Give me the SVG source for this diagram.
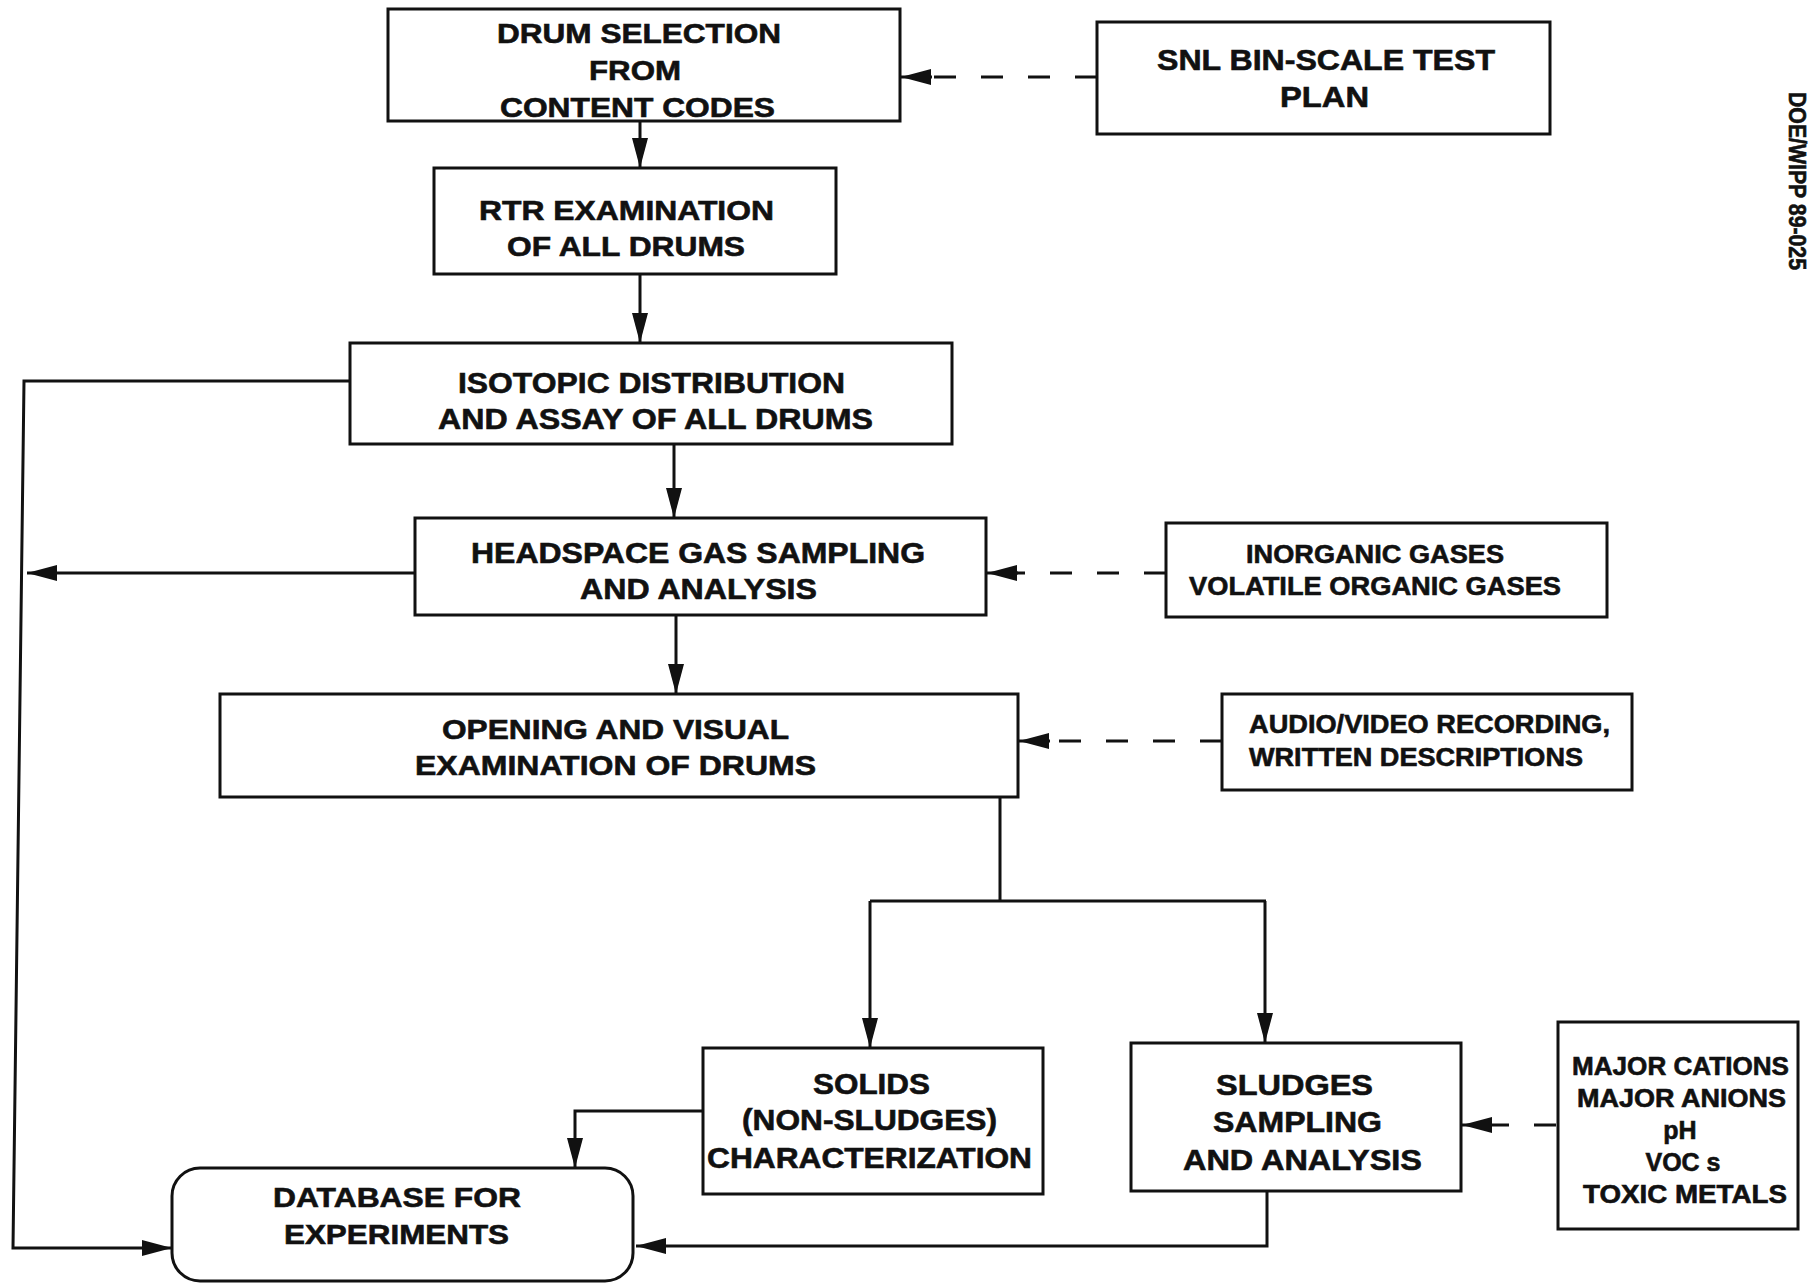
<svg xmlns="http://www.w3.org/2000/svg" width="1811" height="1287" viewBox="0 0 1811 1287">
<style>
.box{fill:#fff;stroke:#111;stroke-width:3}
.t{font-family:"Liberation Sans",Arial,Helvetica,sans-serif;font-weight:bold;fill:#111;stroke:#111;stroke-width:0.6}
.s23{font-size:23px}.s25{font-size:25px}.s26{font-size:26px}.s27{font-size:27px}.s28{font-size:28px}.s29{font-size:29px}
.ln{fill:none;stroke:#111;stroke-width:3;stroke-linejoin:miter}
.dash{fill:none;stroke:#111;stroke-width:3;stroke-dasharray:22 25}
</style>
<defs>
<marker id="ah" markerUnits="userSpaceOnUse" viewBox="0 0 30 16" refX="30" refY="8" markerWidth="30" markerHeight="16" orient="auto">
<path d="M0,0 L30,8 L0,16 z" fill="#111"/>
</marker>
</defs>
<rect width="1811" height="1287" fill="#fff"/>

<g id="connectors">
<line class="ln" x1="640" y1="121" x2="640" y2="168" marker-end="url(#ah)"/>
<line class="ln" x1="640" y1="274" x2="640" y2="343" marker-end="url(#ah)"/>
<line class="ln" x1="674" y1="444" x2="674" y2="518" marker-end="url(#ah)"/>
<line class="ln" x1="676" y1="615" x2="676" y2="694" marker-end="url(#ah)"/>
<path class="ln" d="M350,381 L24,381 L13,1248 L172,1248" marker-end="url(#ah)"/>
<line class="ln" x1="415" y1="573" x2="27" y2="573" marker-end="url(#ah)"/>
<path class="ln" d="M1000,797 L1000,901 M870,901 L1266,901"/>
<line class="ln" x1="870" y1="901" x2="870" y2="1048" marker-end="url(#ah)"/>
<line class="ln" x1="1265" y1="901" x2="1265" y2="1043" marker-end="url(#ah)"/>
<path class="ln" d="M703,1111 L575,1111 L575,1168" marker-end="url(#ah)"/>
<path class="ln" d="M1267,1191 L1267,1246 L636,1246" marker-end="url(#ah)"/>
<line class="dash" x1="1097" y1="77" x2="930" y2="77"/>
<line class="ln" x1="932" y1="77" x2="901" y2="77" marker-end="url(#ah)"/>
<line class="dash" x1="1166" y1="573" x2="1015" y2="573"/>
<line class="ln" x1="1018" y1="573" x2="987" y2="573" marker-end="url(#ah)"/>
<line class="dash" x1="1222" y1="741" x2="1048" y2="741"/>
<line class="ln" x1="1050" y1="741" x2="1019" y2="741" marker-end="url(#ah)"/>
<line class="dash" x1="1556" y1="1125" x2="1490" y2="1125"/>
<line class="ln" x1="1492" y1="1125" x2="1462" y2="1125" marker-end="url(#ah)"/>
</g>

<g id="drum-selection">
<rect class="box" x="388" y="9" width="512" height="112"/>
<text class="t s27" x="497" y="43" textLength="284" lengthAdjust="spacingAndGlyphs">DRUM SELECTION</text>
<text class="t s27" x="589" y="80" textLength="92" lengthAdjust="spacingAndGlyphs">FROM</text>
<text class="t s27" x="500" y="117" textLength="275" lengthAdjust="spacingAndGlyphs">CONTENT CODES</text>
</g>

<g id="snl-plan">
<rect class="box" x="1097" y="22" width="453" height="112"/>
<text class="t s29" x="1157" y="70" textLength="338" lengthAdjust="spacingAndGlyphs">SNL BIN-SCALE TEST</text>
<text class="t s29" x="1280" y="107" textLength="89" lengthAdjust="spacingAndGlyphs">PLAN</text>
</g>

<g id="rtr-examination">
<rect class="box" x="434" y="168" width="402" height="106"/>
<text class="t s28" x="479" y="220" textLength="295" lengthAdjust="spacingAndGlyphs">RTR EXAMINATION</text>
<text class="t s28" x="507" y="256" textLength="238" lengthAdjust="spacingAndGlyphs">OF ALL DRUMS</text>
</g>

<g id="isotopic">
<rect class="box" x="350" y="343" width="602" height="101"/>
<text class="t s29" x="458" y="393" textLength="387" lengthAdjust="spacingAndGlyphs">ISOTOPIC DISTRIBUTION</text>
<text class="t s29" x="438" y="429" textLength="435" lengthAdjust="spacingAndGlyphs">AND ASSAY OF ALL DRUMS</text>
</g>

<g id="headspace">
<rect class="box" x="415" y="518" width="571" height="97"/>
<text class="t s29" x="471" y="563" textLength="454" lengthAdjust="spacingAndGlyphs">HEADSPACE GAS SAMPLING</text>
<text class="t s29" x="580" y="599" textLength="237" lengthAdjust="spacingAndGlyphs">AND ANALYSIS</text>
</g>

<g id="gases">
<rect class="box" x="1166" y="523" width="441" height="94"/>
<text class="t s26" x="1246" y="563" textLength="258" lengthAdjust="spacingAndGlyphs">INORGANIC GASES</text>
<text class="t s26" x="1189" y="595" textLength="372" lengthAdjust="spacingAndGlyphs">VOLATILE ORGANIC GASES</text>
</g>

<g id="opening">
<rect class="box" x="220" y="694" width="798" height="103"/>
<text class="t s28" x="442" y="739" textLength="347" lengthAdjust="spacingAndGlyphs">OPENING AND VISUAL</text>
<text class="t s28" x="415" y="775" textLength="401" lengthAdjust="spacingAndGlyphs">EXAMINATION OF DRUMS</text>
</g>

<g id="recording">
<rect class="box" x="1222" y="694" width="410" height="96"/>
<text class="t s26" x="1249" y="733" textLength="361" lengthAdjust="spacingAndGlyphs">AUDIO/VIDEO RECORDING,</text>
<text class="t s26" x="1249" y="766" textLength="334" lengthAdjust="spacingAndGlyphs">WRITTEN DESCRIPTIONS</text>
</g>

<g id="solids">
<rect class="box" x="703" y="1048" width="340" height="146"/>
<text class="t s29" x="813" y="1094" textLength="117" lengthAdjust="spacingAndGlyphs">SOLIDS</text>
<text class="t s29" x="742" y="1130" textLength="255" lengthAdjust="spacingAndGlyphs">(NON-SLUDGES)</text>
<text class="t s29" x="707" y="1168" textLength="325" lengthAdjust="spacingAndGlyphs">CHARACTERIZATION</text>
</g>

<g id="sludges">
<rect class="box" x="1131" y="1043" width="330" height="148"/>
<text class="t s29" x="1216" y="1095" textLength="157" lengthAdjust="spacingAndGlyphs">SLUDGES</text>
<text class="t s29" x="1213" y="1132" textLength="169" lengthAdjust="spacingAndGlyphs">SAMPLING</text>
<text class="t s29" x="1183" y="1170" textLength="239" lengthAdjust="spacingAndGlyphs">AND ANALYSIS</text>
</g>

<g id="analytes">
<rect class="box" x="1558" y="1022" width="240" height="207"/>
<text class="t s25" x="1572" y="1075" textLength="217" lengthAdjust="spacingAndGlyphs">MAJOR CATIONS</text>
<text class="t s25" x="1577" y="1107" textLength="209" lengthAdjust="spacingAndGlyphs">MAJOR ANIONS</text>
<text class="t s25" x="1680" y="1139" text-anchor="middle">pH</text>
<text class="t s25" x="1683" y="1171" text-anchor="middle">VOC s</text>
<text class="t s25" x="1583" y="1203" textLength="204" lengthAdjust="spacingAndGlyphs">TOXIC METALS</text>
</g>

<g id="database">
<rect class="box" x="172" y="1168" width="461" height="113" rx="28" ry="28"/>
<text class="t s28" x="273" y="1207" textLength="248" lengthAdjust="spacingAndGlyphs">DATABASE FOR</text>
<text class="t s28" x="284" y="1244" textLength="225" lengthAdjust="spacingAndGlyphs">EXPERIMENTS</text>
</g>

<text class="t s23" transform="translate(1789,92) rotate(90)" x="0" y="0" textLength="178" lengthAdjust="spacingAndGlyphs">DOE/WIPP 89-025</text>
</svg>
